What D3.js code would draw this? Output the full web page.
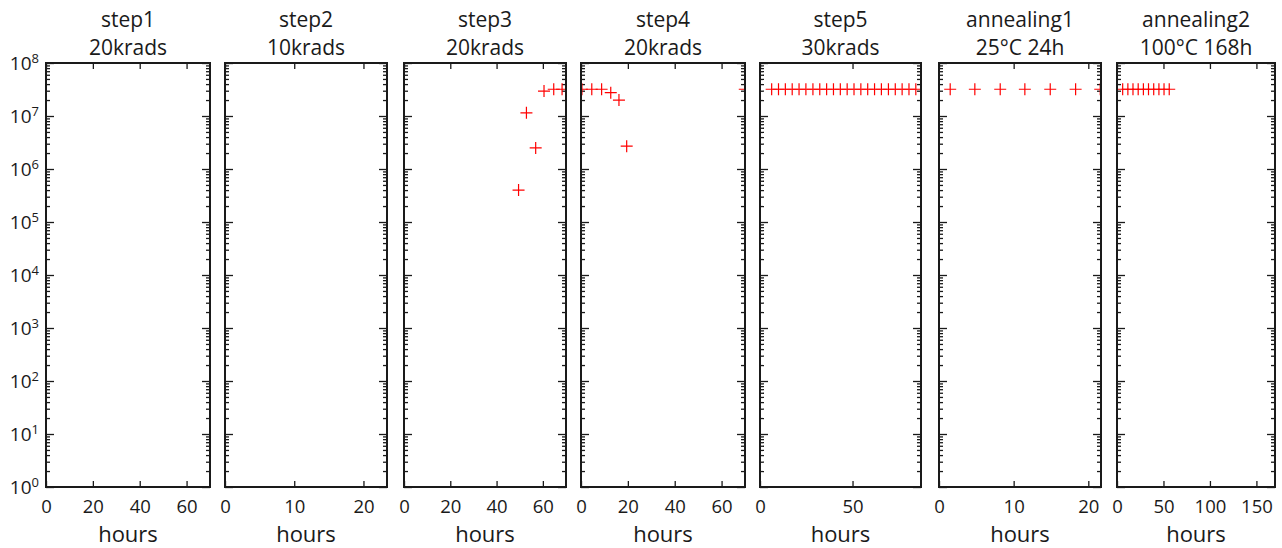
<!DOCTYPE html>
<html>
<head>
<meta charset="utf-8">
<script src="https://cdn.jsdelivr.net/npm/d3@7"></script>
<style>
  html, body { margin: 0; padding: 0; background: #fff; }
  svg { display: block; }
  text { font-family: "Open Sans", "Noto Sans", sans-serif; fill: #1a1a1a; }
</style>
</head>
<body>
<svg id="chart" width="1282" height="548"></svg>
<script>
// ---------------- data ----------------
const panelTitles = ["step1", "step2", "step3", "step4", "step5", "annealing1", "annealing2"];
const panelSubtitles = ["20krads", "10krads", "20krads", "20krads", "30krads", "25°C 24h", "100°C 168h"];
const xMax = [70, 23.4, 70, 70, 87, 21.7, 170];
const xTicks = [
  [0, 20, 40, 60],
  [0, 10, 20],
  [0, 20, 40, 60],
  [0, 20, 40, 60],
  [0, 50],
  [0, 10, 20],
  [0, 50, 100, 150]
];
const yTickExponents = [0, 1, 2, 3, 4, 5, 6, 7, 8];
const xLabel = "hours";

const hours = [
  [],
  [],
  [49.5, 52.9, 56.9, 60.5, 64.7, 68.3],
  [0.4, 4.6, 8.8, 12.7, 16.2, 19.5, 69.9],
  [6.3, 10.0, 13.7, 17.4, 21.1, 24.8, 28.6, 32.3, 36.0, 39.7, 43.4, 47.1, 50.8, 54.5, 58.2, 61.9, 65.6, 69.4, 73.1, 76.8, 80.5, 84.2],
  [1.5, 4.8, 8.2, 11.5, 14.9, 18.3, 21.6],
  [6.1, 11.7, 17.2, 22.8, 28.4, 33.9, 39.5, 45.1, 50.6, 56.2]
];
const counts = [
  [],
  [],
  [4.0e5, 1.15e7, 2.5e6, 2.95e7, 3.2e7, 3.2e7],
  [3.2e7, 3.2e7, 3.2e7, 2.75e7, 2.0e7, 2.7e6, 3.2e7],
  [3.2e7, 3.2e7, 3.2e7, 3.2e7, 3.2e7, 3.2e7, 3.2e7, 3.2e7, 3.2e7, 3.2e7, 3.2e7, 3.2e7, 3.2e7, 3.2e7, 3.2e7, 3.2e7, 3.2e7, 3.2e7, 3.2e7, 3.2e7, 3.2e7, 3.2e7],
  [3.2e7, 3.2e7, 3.2e7, 3.2e7, 3.2e7, 3.2e7, 3.2e7],
  [3.2e7, 3.2e7, 3.2e7, 3.2e7, 3.2e7, 3.2e7, 3.2e7, 3.2e7, 3.2e7, 3.2e7]
];

// ---------------- layout ----------------
const panelLeft  = [46, 225, 404, 581, 760, 939, 1117];
const panelRight = [210, 387, 566, 745, 921, 1101, 1275];
const plotTop = 63, plotBottom = 487;

const svg = d3.select("#chart");
const y = d3.scaleLog().domain([1, 1e8]).range([plotBottom, plotTop]);
const majorY = yTickExponents.map(e => Math.pow(10, e));
const minorY = [];
for (let e = 0; e < 8; e++) for (let m = 2; m <= 9; m++) minorY.push(m * Math.pow(10, e));

const defs = svg.append("defs");

panelTitles.forEach((title, i) => {
  const x0 = panelLeft[i], x1 = panelRight[i];
  const w = x1 - x0;
  const x = d3.scaleLinear().domain([0, xMax[i]]).range([0, w]);
  const g = svg.append("g").attr("transform", `translate(${x0},0)`);

  defs.append("clipPath").attr("id", "clip" + i)
    .append("rect").attr("x", 0).attr("y", plotTop).attr("width", w).attr("height", plotBottom - plotTop);

  // Y axes: left and right, inside ticks
  g.append("g").call(d3.axisLeft(y).tickValues(majorY).tickSize(-8).tickFormat(""));
  g.append("g").call(d3.axisLeft(y).tickValues(minorY).tickSize(-4).tickFormat(""));
  g.append("g").attr("transform", `translate(${w},0)`)
    .call(d3.axisRight(y).tickValues(majorY).tickSize(-8).tickFormat(""));
  g.append("g").attr("transform", `translate(${w},0)`)
    .call(d3.axisRight(y).tickValues(minorY).tickSize(-4).tickFormat(""));

  if (i === 0) {
    const lab = g.append("g").selectAll("text.ylab")
      .data(yTickExponents)
      .join("text")
      .attr("class", "ylab")
      .attr("x", -7)
      .attr("y", e => y(Math.pow(10, e)) + 7)
      .attr("text-anchor", "end")
      .style("font-size", "19px");
    lab.append("tspan").text("10");
    lab.append("tspan").attr("dy", "-7").style("font-size", "13px").text(e => String(e));
  }

  // X axes: bottom and top, inside ticks
  g.append("g").attr("transform", `translate(0,${plotBottom})`)
    .call(d3.axisBottom(x).tickValues(xTicks[i]).tickSize(-6).tickPadding(13).tickFormat(d3.format("d")))
    .selectAll("text").style("font-size", "18.5px");
  g.append("g").attr("transform", `translate(0,${plotTop})`)
    .call(d3.axisTop(x).tickValues(xTicks[i]).tickSize(-6).tickFormat(""));

  g.selectAll(".domain").remove();
  g.selectAll(".tick line").attr("stroke", "#1a1a1a").attr("stroke-width", 1.3);
  g.selectAll(".tick text").attr("fill", "#1a1a1a").style("font-family", '"Open Sans", sans-serif');

  // markers
  g.append("g").attr("clip-path", `url(#clip${i})`)
    .selectAll("path.pt")
    .data(hours[i].map((h, k) => [h, counts[i][k]]))
    .join("path")
    .attr("class", "pt")
    .attr("d", d => `M${x(d[0]) - 6},${y(d[1])}H${x(d[0]) + 6}M${x(d[0])},${y(d[1]) - 6}V${y(d[1]) + 6}`)
    .attr("stroke", "#ff0000")
    .attr("stroke-width", 1.2)
    .attr("fill", "none");

  // frame
  g.append("rect").attr("x", 0).attr("y", plotTop).attr("width", w).attr("height", plotBottom - plotTop)
    .attr("fill", "none").attr("stroke", "#1a1a1a").attr("stroke-width", 2);

  // titles
  g.append("text").attr("x", w / 2).attr("y", 26.5).attr("text-anchor", "middle")
    .style("font-size", "21px").text(title);
  g.append("text").attr("x", w / 2).attr("y", 55.2).attr("text-anchor", "middle")
    .style("font-size", "21px").text(panelSubtitles[i]);

  // x label
  g.append("text").attr("x", w / 2).attr("y", 542).attr("text-anchor", "middle")
    .style("font-size", "22px").text(xLabel);
});
</script>
</body>
</html>
